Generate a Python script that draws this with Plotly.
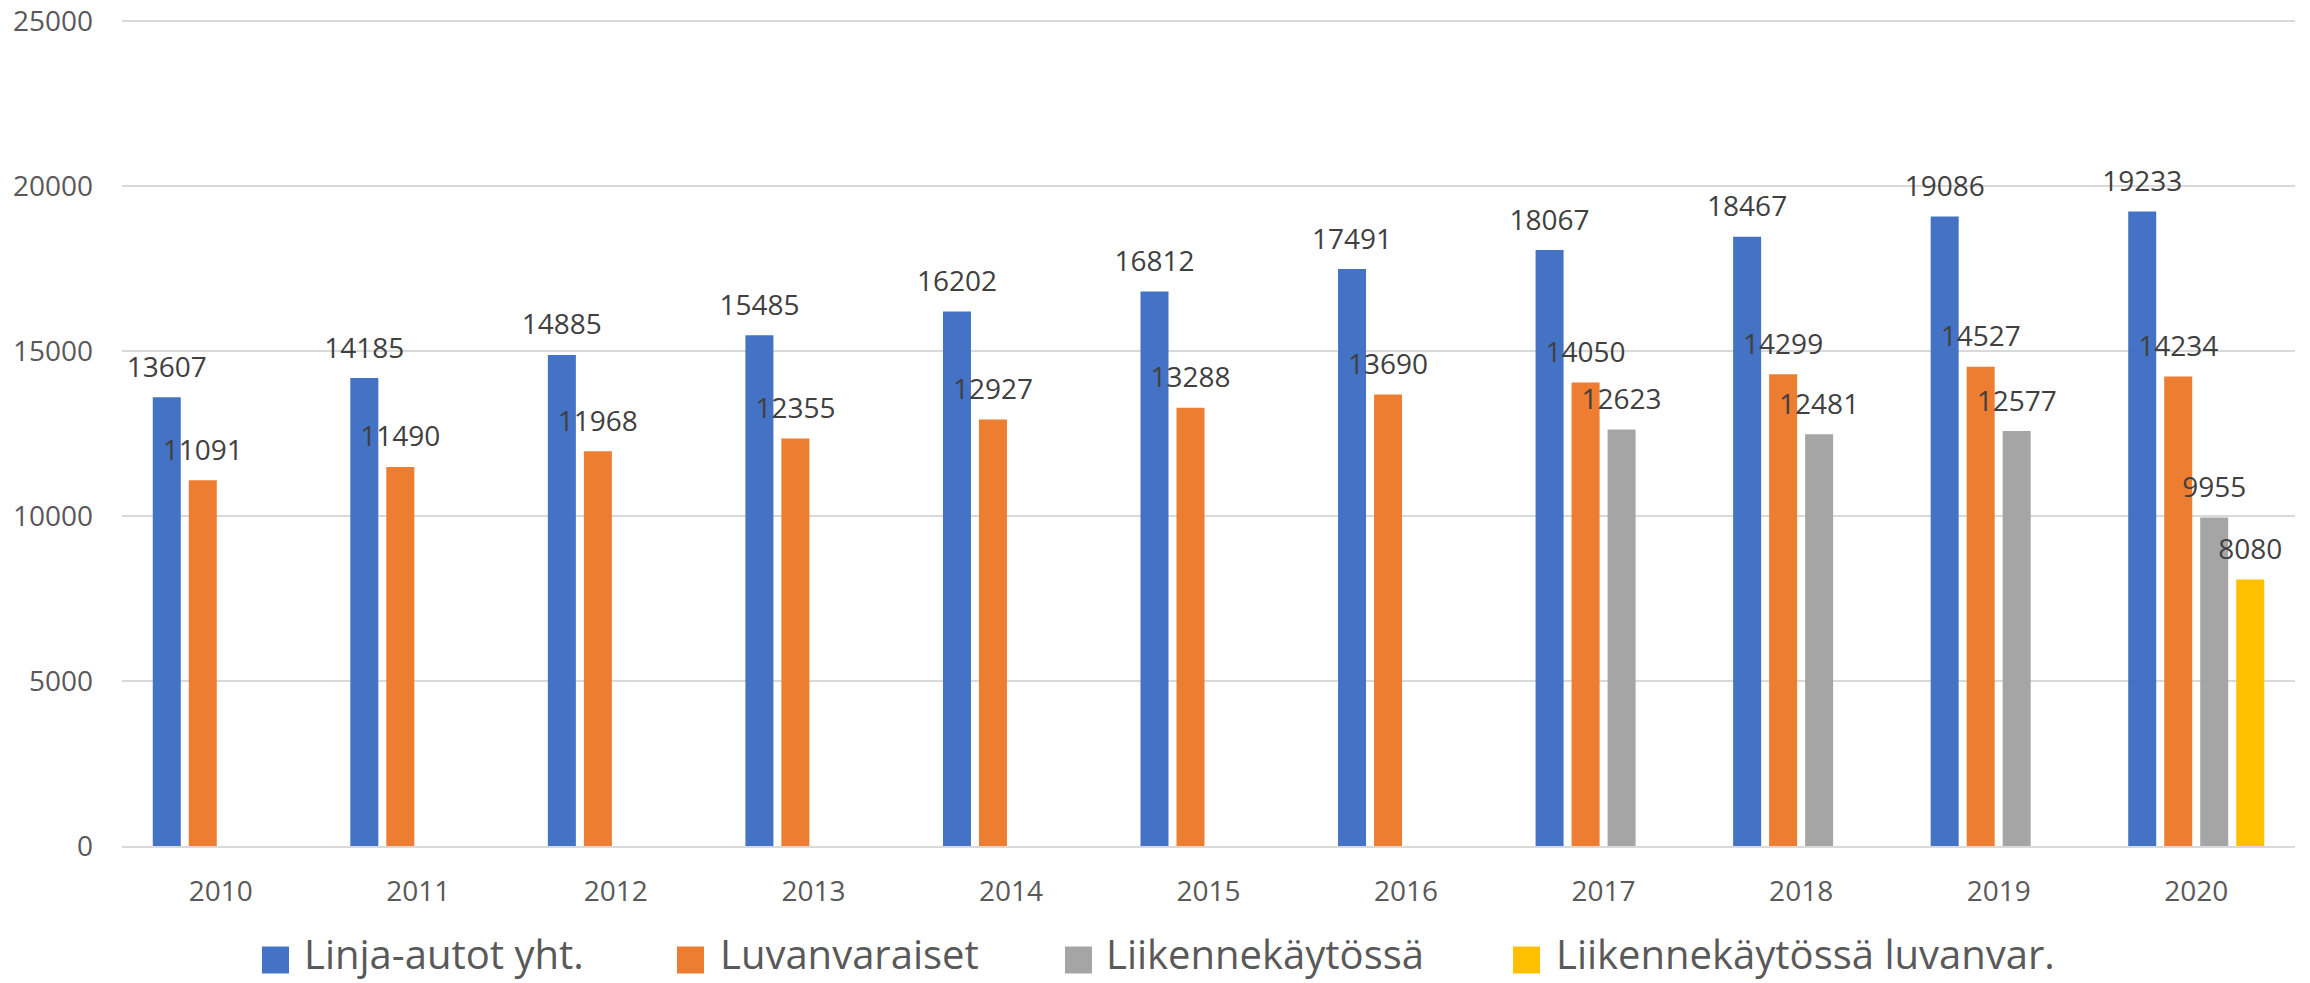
import plotly.graph_objects as go

years = ["2010", "2011", "2012", "2013", "2014", "2015", "2016", "2017", "2018", "2019", "2020"]
linja_autot = [13607, 14185, 14885, 15485, 16202, 16812, 17491, 18067, 18467, 19086, 19233]
luvanvaraiset = [11091, 11490, 11968, 12355, 12927, 13288, 13690, 14050, 14299, 14527, 14234]
liikennekaytossa = [None, None, None, None, None, None, None, 12623, 12481, 12577, 9955]
liikenne_luvanvar = [None, None, None, None, None, None, None, None, None, None, 8080]

series_names = ["Linja-autot yht.", "Luvanvaraiset", "Liikennekäytössä", "Liikennekäytössä luvanvar."]
series_values = [linja_autot, luvanvaraiset, liikennekaytossa, liikenne_luvanvar]
colors = ["#4472C4", "#ED7D31", "#A5A5A5", "#FFC000"]
y_ticks = [0, 5000, 10000, 15000, 20000, 25000]
Y_MAX = 25100

W, H = 2310, 983
L, T = 122, 18
PLOT_RIGHT, PLOT_BOTTOM = 2295, 846
R, B = W - PLOT_RIGHT, H - PLOT_BOTTOM
PW, PH = PLOT_RIGHT - L, PLOT_BOTTOM - T
GAP, GROUPGAP = 0.271, 0.222

fig = go.Figure()
for name, vals, col in zip(series_names, series_values, colors):
    fig.add_trace(go.Bar(
        x=years, y=vals, name=name,
        marker=dict(color=col, line=dict(width=0)),
        offsetgroup=name, alignmentgroup="g",
        showlegend=False, hoverinfo="x+y",
    ))
# value labels, grouped into the same slots as the bars
for name, vals in zip(series_names, series_values):
    fig.add_trace(go.Scatter(
        x=years, y=vals, mode="markers+text",
        text=[("" if v is None else str(v)) for v in vals],
        textposition="top center",
        textfont=dict(family="Open Sans", size=28, color="#404040"),
        marker=dict(size=20, opacity=0),
        offsetgroup=name, alignmentgroup="g",
        cliponaxis=False, showlegend=False, hoverinfo="skip",
    ))

# custom legend (large square swatches like the original)
legend_sq_x = [262, 677, 1065, 1513]
legend_txt_x = [302, 718, 1104, 1554]
sq = 27
cy = 960
ty = 954
shapes = []
annotations = []
for name, col, sx, tx in zip(series_names, colors, legend_sq_x, legend_txt_x):
    shapes.append(dict(
        type="rect", xref="paper", yref="paper",
        x0=(sx - L) / PW, x1=(sx + sq - L) / PW,
        y0=(PLOT_BOTTOM - (cy + sq / 2)) / PH, y1=(PLOT_BOTTOM - (cy - sq / 2)) / PH,
        fillcolor=col, line=dict(width=0),
    ))
    annotations.append(dict(
        text=name, xref="paper", yref="paper",
        x=(tx - L) / PW, y=(PLOT_BOTTOM - ty) / PH,
        xanchor="left", yanchor="middle", showarrow=False,
        font=dict(family="Open Sans", size=40, color="#595959"),
    ))

fig.update_layout(
    width=W, height=H,
    margin=dict(l=L, r=R, t=T, b=B, autoexpand=False),
    paper_bgcolor="white", plot_bgcolor="white",
    barmode="group", bargap=GAP, bargroupgap=GROUPGAP,
    scattermode="group", scattergap=GAP,
    shapes=shapes, annotations=annotations,
    showlegend=False,
    xaxis=dict(
        type="category", showgrid=False, showline=True,
        linecolor="#D9D9D9", linewidth=2, ticks="",
        tickfont=dict(family="Open Sans", size=28, color="#595959"),
        ticklabelstandoff=19,
    ),
    yaxis=dict(
        range=[0, Y_MAX], tickvals=y_ticks, ticktext=[str(v) for v in y_ticks],
        showgrid=True, gridcolor="#D9D9D9", gridwidth=1.5,
        zeroline=False, showline=False, ticks="",
        tickfont=dict(family="Open Sans", size=28, color="#595959"),
        ticklabelstandoff=28, ticklabeloverflow="allow",
    ),
)

fig.write_html("out.html", config={"displayModeBar": False},
               post_script="document.body.style.margin='0';")
